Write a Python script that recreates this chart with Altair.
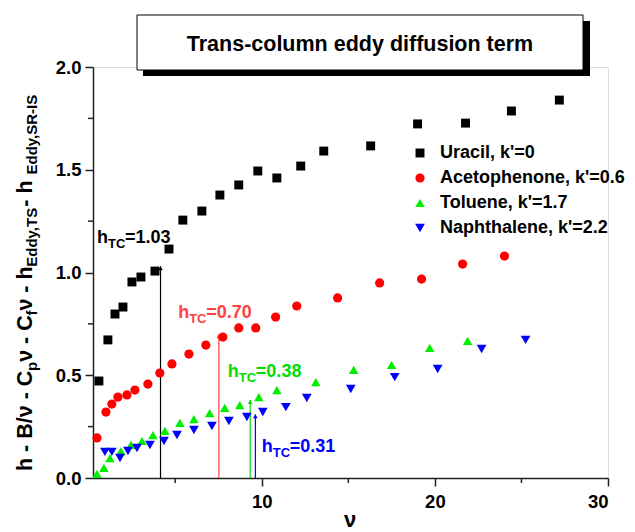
import altair as alt
import pandas as pd

# ---- data -------------------------------------------------------------
uracil_x = [0.59, 1.11, 1.52, 1.98, 2.50, 3.02, 3.83, 4.64, 5.44, 6.54, 7.58,
            8.67, 9.77, 10.87, 12.25, 13.58, 16.29, 19.00, 21.77, 24.42, 27.19]
uracil_y = [0.472, 0.672, 0.798, 0.832, 0.954, 0.978, 1.007, 1.114, 1.255, 1.299, 1.377,
            1.426, 1.494, 1.460, 1.518, 1.591, 1.616, 1.723, 1.727, 1.786, 1.839]

aceto_x = [0.48, 1.00, 1.34, 1.69, 2.21, 2.67, 3.42, 4.11, 4.81, 5.79, 6.77,
           7.75, 8.67, 9.65, 10.80, 12.02, 14.38, 16.81, 19.23, 21.60, 24.02]
aceto_y = [0.195, 0.321, 0.360, 0.394, 0.404, 0.428, 0.457, 0.511, 0.555, 0.603, 0.647,
           0.686, 0.730, 0.730, 0.783, 0.837, 0.876, 0.949, 0.968, 1.041, 1.080]

toluene_x = [0.48, 0.88, 1.23, 1.86, 2.44, 3.08, 3.71, 4.40, 5.27, 6.08,
             6.99, 7.86, 8.73, 9.83, 10.87, 13.12, 15.31, 17.50, 19.70, 21.89]
toluene_y = [0.020, 0.049, 0.097, 0.131, 0.161, 0.180, 0.209, 0.229, 0.268, 0.287,
             0.316, 0.341, 0.355, 0.394, 0.428, 0.467, 0.526, 0.550, 0.633, 0.667]

naph_x = [0.94, 1.34, 1.81, 2.27, 2.79, 3.54, 4.35, 5.10, 6.08, 7.12,
          8.10, 9.14, 10.06, 11.39, 12.60, 15.14, 17.68, 20.16, 22.70, 25.24]
naph_y = [0.127, 0.127, 0.097, 0.131, 0.146, 0.161, 0.180, 0.209, 0.234, 0.253,
          0.277, 0.297, 0.321, 0.345, 0.389, 0.433, 0.491, 0.530, 0.628, 0.672]

series_names = ["Uracil, k'=0", "Acetophenone, k'=0.6", "Toluene, k'=1.7", "Naphthalene, k'=2.2"]
series_colors = ["#000000", "#ff0000", "#00ee00", "#0000ff"]
series_shapes = ["square", "circle", "triangle-up", "triangle-down"]
series_sizes = [80, 95, 170, 170]

# h_TC values and the plate number where each arrow is drawn
htc_values = [1.03, 0.70, 0.38, 0.31]
htc_x = [4.15, 7.52, 9.33, 9.63]
htc_colors = ["#000000", "#ff4040", "#00dd00", "#0000ff"]
htc_label_x = [0.48, 5.17, 8.04, 10.0]
htc_label_y = [1.144, 0.779, 0.49, 0.127]

x_major = [10, 20, 30]
x_minor = [5, 15, 25]
y_major = [0.0, 0.5, 1.0, 1.5, 2.0]
y_minor = [0.25, 0.75, 1.25, 1.75]

W, H = 515, 411
FONT = "Liberation Sans"

rows = []
for name, xs, ys in zip(series_names,
                        [uracil_x, aceto_x, toluene_x, naph_x],
                        [uracil_y, aceto_y, toluene_y, naph_y]):
    rows += [{"series": name, "nu": x, "h": y} for x, y in zip(xs, ys)]
df = pd.DataFrame(rows)

xscale = alt.Scale(domain=[0.25, 30], nice=False, zero=False)
yscale = alt.Scale(domain=[0, 2], nice=False, zero=False)

points = alt.Chart(df).mark_point(filled=True, opacity=1).encode(
    x=alt.X("nu:Q", scale=xscale,
            axis=alt.Axis(values=x_major, format="d", title=None, tickSize=8,
                          labelPadding=6, labelFontSize=18.5, labelFont=FONT,
                          labelFontWeight="bold", labelColor="black",
                          domainColor="#222", tickColor="#222", domainWidth=1.5,
                          tickWidth=1.5, grid=False)),
    y=alt.Y("h:Q", scale=yscale,
            axis=alt.Axis(values=y_major, format=".1f", title=None, tickSize=8,
                          labelPadding=4, labelFontSize=18.5, labelFont=FONT,
                          labelFontWeight="bold", labelColor="black",
                          domainColor="#222", tickColor="#222", domainWidth=1.5,
                          tickWidth=1.5, grid=False)),
    color=alt.Color("series:N", scale=alt.Scale(domain=series_names, range=series_colors),
                    legend=alt.Legend(title=None, orient="none", legendX=318, legendY=77,
                                      labelFontSize=18, labelFont=FONT, labelLimit=0,
                                      labelFontWeight="bold", labelColor="black",
                                      symbolSize=170, symbolStrokeWidth=0,
                                      rowPadding=7, labelOffset=11, padding=0)),
    shape=alt.Shape("series:N", scale=alt.Scale(domain=series_names, range=series_shapes)),
    size=alt.Size("series:N", scale=alt.Scale(domain=series_names, range=series_sizes),
                  legend=None),
)

# minor ticks
xminor = alt.Chart(pd.DataFrame({"v": x_minor})).mark_rule(color="#222", strokeWidth=1.5).encode(
    x=alt.X("v:Q", scale=xscale), y=alt.value(H), y2=alt.value(H + 5))
yminor = alt.Chart(pd.DataFrame({"v": y_minor})).mark_rule(color="#222", strokeWidth=1.5).encode(
    y=alt.Y("v:Q", scale=yscale), x=alt.value(0), x2=alt.value(-5))

# h_TC arrows
arr = pd.DataFrame({"x": htc_x, "y": htc_values, "c": htc_colors, "y0": [0] * 4})
arrow_lines = alt.Chart(arr).mark_rule(strokeWidth=1.2).encode(
    x=alt.X("x:Q", scale=xscale), y=alt.Y("y0:Q", scale=yscale), y2="y:Q",
    color=alt.Color("c:N", scale=None))
arrow_heads = alt.Chart(arr).mark_point(shape="triangle-up", filled=True, size=22, opacity=1,
                                        yOffset=2).encode(
    x=alt.X("x:Q", scale=xscale), y=alt.Y("y:Q", scale=yscale),
    color=alt.Color("c:N", scale=None))

lab = pd.DataFrame({"x": htc_label_x, "y": htc_label_y, "c": htc_colors,
                    "v": [f"={v:.2f}" for v in htc_values]})
lab_h = alt.Chart(lab).mark_text(text="h", align="left", baseline="alphabetic", fontSize=18,
                                 font=FONT, fontWeight="bold").encode(
    x=alt.X("x:Q", scale=xscale), y=alt.Y("y:Q", scale=yscale), color=alt.Color("c:N", scale=None))
lab_sub = alt.Chart(lab).mark_text(text="TC", align="left", baseline="alphabetic", fontSize=13,
                                   font=FONT, fontWeight="bold", dx=11, dy=5).encode(
    x=alt.X("x:Q", scale=xscale), y=alt.Y("y:Q", scale=yscale), color=alt.Color("c:N", scale=None))
lab_val = alt.Chart(lab).mark_text(align="left", baseline="alphabetic", fontSize=18,
                                   font=FONT, fontWeight="bold", dx=28).encode(
    x=alt.X("x:Q", scale=xscale), y=alt.Y("y:Q", scale=yscale), text="v:N",
    color=alt.Color("c:N", scale=None))

# title box with drop shadow
one = pd.DataFrame({"a": [0]})
shadow = alt.Chart(one).mark_rect(color="black").encode(
    x=alt.value(50), x2=alt.value(497), y=alt.value(-46), y2=alt.value(9))
box = alt.Chart(one).mark_rect(color="white", stroke="black", strokeWidth=1).encode(
    x=alt.value(44), x2=alt.value(490), y=alt.value(-52), y2=alt.value(3))
title = alt.Chart(one).mark_text(text="Trans-column eddy diffusion term", fontSize=21.5,
                                 font=FONT, fontWeight="bold", align="center",
                                 baseline="middle").encode(
    x=alt.value(267), y=alt.value(-22))

# x axis title
xtitle = alt.Chart(one).mark_text(text="ν", fontSize=22, font=FONT, fontWeight="bold",
                                  baseline="middle").encode(x=alt.value(257), y=alt.value(H + 42))

# y axis title built from pieces (main text and subscripts), reading bottom to top
MAIN, SUB = 21.5, 15
yt_pieces = [("h - B/ν - C", 0), ("p", 1), ("ν - C", 0), ("f", 1),
             ("ν - h", 0), ("Eddy,TS", 1), (" - h", 0), ("Eddy,SR-IS", 1)]
em = {"h": .611, " ": .278, "-": .333, "B": .722, "/": .278, "ν": .54, "C": .722,
      "p": .611, "f": .333, "E": .667, "d": .611, "y": .556, ",": .278, "T": .611,
      "S": .667, "R": .722, "I": .278}
pos = 404
yt_rows = []
for txt, sub in yt_pieces:
    fs = SUB if sub else MAIN
    yt_rows.append({"t": txt, "ypix": pos, "xpix": -61 + (5 if sub else 0), "fs": fs})
    pos -= sum(em[c] for c in txt) * fs
ytitle_layers = []
for r in yt_rows:
    ytitle_layers.append(
        alt.Chart(one).mark_text(text=r["t"], fontSize=r["fs"], font=FONT, fontWeight="bold",
                                 angle=270, align="left", baseline="alphabetic").encode(
            x=alt.value(r["xpix"]), y=alt.value(r["ypix"])))

chart = alt.layer(
    shadow, box, title, xminor, yminor, arrow_lines, arrow_heads, points,
    lab_h, lab_sub, lab_val, xtitle, *ytitle_layers
).properties(
    width=W, height=H,
    autosize=alt.AutoSizeParams(type="none"),
    padding={"left": 93, "top": 67, "right": 27, "bottom": 54},
).configure_view(stroke=None).configure(background="white")

chart.save("out.html", embed_options={"renderer": "svg", "actions": False})
